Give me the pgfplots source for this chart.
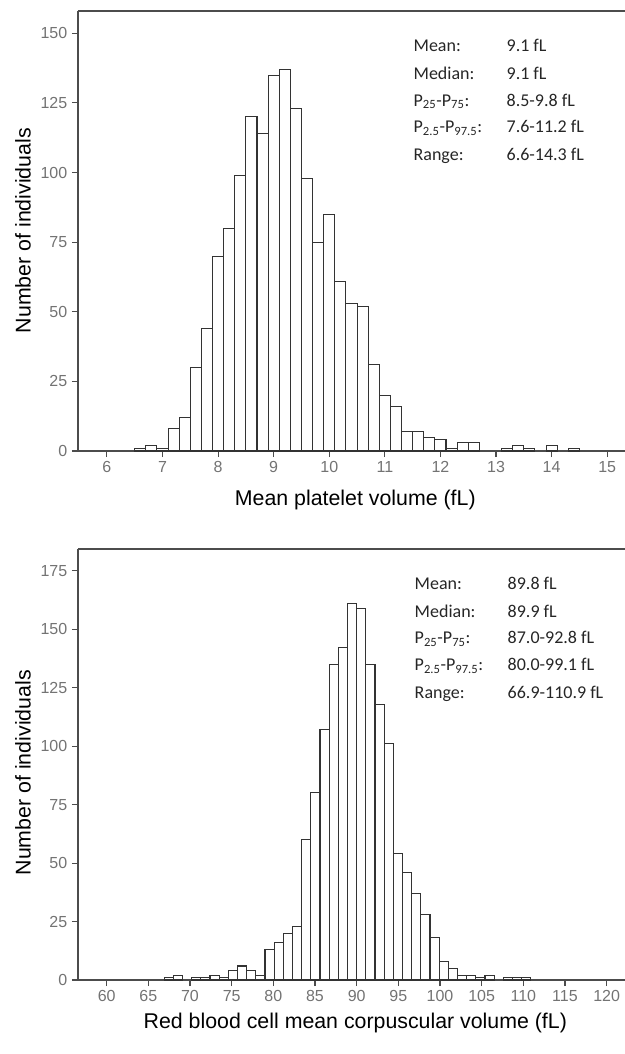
\documentclass[border=0pt]{standalone}
\usepackage{fontspec}
\setmainfont{Liberation Sans}
\newfontfamily\calib{Carlito}
\usepackage{pgfplots}
\pgfplotsset{compat=1.18}
\usepackage{pgfplotstable}

% bin centre, count (bins 0.2 fL wide)
\pgfplotstableread{
x n
6.6 1
6.8 2
7.0 1
7.2 8
7.4 12
7.6 30
7.8 44
8.0 70
8.2 80
8.4 99
8.6 120
8.8 114
9.0 135
9.2 137
9.4 123
9.6 98
9.8 75
10.0 85
10.2 61
10.4 53
10.6 52
10.8 31
11.0 20
11.2 16
11.4 7
11.6 7
11.8 5
12.0 4
12.2 1
12.4 3
12.6 3
13.2 1
13.4 2
13.6 1
14.0 2
14.4 1
}\mpv

% bin centre, count (bins 1.1 fL wide)
\pgfplotstableread{
x n
67.45 1
68.55 2
70.75 1
71.85 1
72.95 2
74.05 1
75.15 4
76.25 6
77.35 4
78.45 2
79.55 13
80.65 16
81.75 20
82.85 23
83.95 60
85.05 80
86.15 107
87.25 135
88.35 142
89.45 161
90.55 159
91.65 135
92.75 118
93.85 101
94.95 54
96.05 46
97.15 37
98.25 28
99.35 18
100.45 8
101.55 5
102.65 2
103.75 2
104.85 1
105.95 2
108.15 1
109.25 1
110.35 1
}\mcv

\newcommand\lblfont{\fontsize{16}{18}\selectfont}
\pgfplotsset{histo/.style={
  scale only axis, width=410.25pt,
  axis lines=left, axis line style={-, black!70, line width=1pt},
  tick align=outside, major tick length=4.5pt,
  tick style={black!70, line width=0.8pt},
  ymin=0, clip=false,
  ticklabel style={font=\fontsize{12}{13}\selectfont, text=black!55},
  /pgf/number format/assume math mode=true,
  ylabel={Number of individuals},
  every axis y label/.style={rotate=90, anchor=center, font=\lblfont},
  every axis x label/.style={anchor=center, font=\lblfont},
}}
\tikzset{bars/.style={ybar, fill=white, draw=black!80, line width=0.8pt},
  stat/.style={anchor=base west, text=black!85, font=\calib\fontsize{13.5}{15}\selectfont}}

\begin{document}
\begin{tikzpicture}
\path[use as bounding box] (-58.5pt,8.25pt) rectangle (410.25pt,-782.25pt);

\begin{axis}[histo, at={(0,0)}, anchor=north west, height=330pt,
  xmin=5.48, xmax=15.32, ymax=158,
  xtick={6,...,15}, ytick={0,25,...,150},
  xlabel={Mean platelet volume (fL)},
  xlabel style={at={(axis description cs:0.507,-0.111)}},
  ylabel style={at={(axis description cs:-0.1005,0.501)}}]
  \addplot[bars, bar width=0.2] table[x=x,y=n]{\mpv};
  \draw[black!70, line width=1pt] (rel axis cs:0,1) -- (rel axis cs:1,1);
  \node[stat] at (axis description cs:0.605,0.907) {Mean:};
  \node[stat] at (axis description cs:0.605,0.845) {Median:};
  \node[stat] at (axis description cs:0.605,0.784) {P\textsubscript{25}-P\textsubscript{75}:};
  \node[stat] at (axis description cs:0.605,0.723) {P\textsubscript{2.5}-P\textsubscript{97.5}:};
  \node[stat] at (axis description cs:0.605,0.661) {Range:};
  \node[stat] at (axis description cs:0.775,0.907) {9.1 fL};
  \node[stat] at (axis description cs:0.775,0.845) {9.1 fL};
  \node[stat] at (axis description cs:0.775,0.784) {8.5-9.8 fL};
  \node[stat] at (axis description cs:0.775,0.723) {7.6-11.2 fL};
  \node[stat] at (axis description cs:0.775,0.661) {6.6-14.3 fL};
\end{axis}

\begin{axis}[histo, at={(0,-403.5pt)}, anchor=north west, height=323.25pt,
  xmin=56.56, xmax=122.2, ymax=184.3,
  xtick={60,65,...,120}, ytick={0,25,...,175},
  xlabel={Red blood cell mean corpuscular volume (fL)},
  xlabel style={at={(axis description cs:0.507,-0.100)}},
  ylabel style={at={(axis description cs:-0.1005,0.481)}}]
  \addplot[bars, bar width=1.1] table[x=x,y=n]{\mcv};
  \draw[black!70, line width=1pt] (rel axis cs:0,1) -- (rel axis cs:1,1);
  \node[stat] at (axis description cs:0.607,0.905) {Mean:};
  \node[stat] at (axis description cs:0.607,0.842) {Median:};
  \node[stat] at (axis description cs:0.607,0.780) {P\textsubscript{25}-P\textsubscript{75}:};
  \node[stat] at (axis description cs:0.607,0.717) {P\textsubscript{2.5}-P\textsubscript{97.5}:};
  \node[stat] at (axis description cs:0.607,0.654) {Range:};
  \node[stat] at (axis description cs:0.777,0.905) {89.8 fL};
  \node[stat] at (axis description cs:0.777,0.842) {89.9 fL};
  \node[stat] at (axis description cs:0.777,0.780) {87.0-92.8 fL};
  \node[stat] at (axis description cs:0.777,0.717) {80.0-99.1 fL};
  \node[stat] at (axis description cs:0.777,0.654) {66.9-110.9 fL};
\end{axis}
\end{tikzpicture}
\end{document}
